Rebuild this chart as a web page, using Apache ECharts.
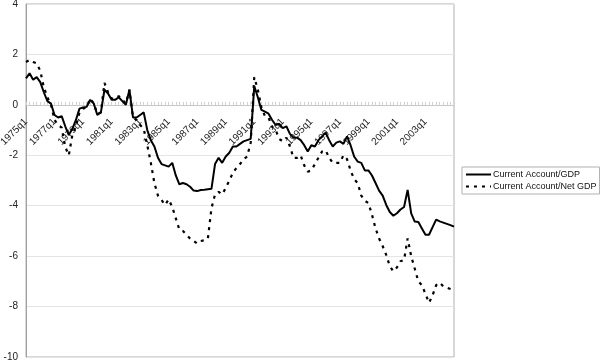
<!DOCTYPE html>
<html>
<head>
<meta charset="utf-8">
<script src="https://cdn.jsdelivr.net/npm/echarts@6/dist/echarts.min.js"></script>
<style>html,body{margin:0;padding:0;background:#fff}#c{width:600px;height:360px}</style>
</head>
<body>
<div id="c"></div>
<script>
// Quarterly categories 1975q1 .. 2005q1
var startYear = 1975, endYear = 2005, endQuarter = 1;
var categories = [];
for (var y = startYear; y <= endYear; y++) {
  for (var q = 1; q <= 4; q++) {
    if (y === endYear && q > endQuarter) break;
    categories.push(y + 'q' + q);
  }
}

var seriesNames = ['Current Account/GDP', 'Current Account/Net GDP'];

var caGDP = [
  1.05, 1.25, 1.0, 1.1, 0.9, 0.5, 0.15, 0.05, -0.4, -0.5,
  -0.45, -0.85, -1.2, -0.95, -0.6, -0.15, -0.1, -0.08, 0.2, 0.05,
  -0.4, -0.3, 0.6, 0.45, 0.2, 0.2, 0.3, 0.15, 0.0, 0.6,
  -0.5, -0.5, -0.4, -0.3, -1.0, -1.4, -1.65, -2.1, -2.35, -2.4,
  -2.45, -2.3, -2.8, -3.15, -3.1, -3.15, -3.25, -3.4, -3.42, -3.38,
  -3.37, -3.35, -3.33, -2.35, -2.1, -2.3, -2.05, -1.9, -1.65, -1.65,
  -1.55, -1.45, -1.4, -1.35, 0.75, 0.3, -0.2, -0.27, -0.35, -0.6,
  -0.8, -0.75, -0.92, -0.85, -1.15, -1.3, -1.3, -1.4, -1.6, -1.85,
  -1.6, -1.65, -1.4, -1.25, -1.1, -1.4, -1.65, -1.5, -1.45, -1.55,
  -1.25, -1.6, -2.05, -2.25, -2.3, -2.6, -2.6, -2.8, -3.1, -3.4,
  -3.6, -3.97, -4.25, -4.4, -4.3, -4.15, -4.05, -3.37, -4.3, -4.63,
  -4.65, -4.9, -5.15, -5.15, -4.85, -4.55, -4.62, -4.67, -4.72, -4.77,
  -4.83
];

var caNetGDP = [
  1.7, 1.78, 1.7, 1.65, 1.35, 0.7, 0.3, 0.0, -0.6, -0.8,
  -0.9, -1.67, -2.0, -1.2, -0.85, -0.3, -0.15, -0.1, 0.25, 0.05,
  -0.35, -0.3, 0.87, 0.5, 0.25, 0.25, 0.35, 0.2, 0.05, 0.6,
  -0.5, -0.6, -0.8, -0.95, -1.6, -2.3, -3.1, -3.6, -3.77, -3.97,
  -3.75, -4.05, -4.5, -4.95, -5.0, -5.15, -5.3, -5.4, -5.5, -5.4,
  -5.37, -5.3, -4.1, -3.55, -3.45, -3.55, -3.3, -3.0, -2.7, -2.5,
  -2.35, -2.15, -2.05, -1.5, 1.1, 0.6, -0.1, -0.45, -0.5, -0.87,
  -1.0, -1.35, -1.45, -1.3, -1.65, -2.1, -2.1, -2.0, -2.4, -2.65,
  -2.6, -2.35, -2.1, -1.85, -1.8, -2.1, -2.3, -2.3, -2.3, -2.0,
  -2.15, -2.6, -2.95, -3.1, -3.6, -3.8, -3.9, -4.35, -4.9, -5.3,
  -5.6, -5.95, -6.4, -6.6, -6.45, -6.2, -6.15, -5.3, -6.0, -6.5,
  -7.0, -7.15, -7.5, -7.85, -7.55, -7.15, -7.05, -7.2, -7.25, -7.3,
  -7.35
];

var yMin = -10, yMax = 4, yStep = 2;
var labelEvery = 8;

var chart = echarts.init(document.getElementById('c'), null, {renderer: 'canvas'});
var font = '"Liberation Sans", Arial, sans-serif';
chart.setOption({
  animation: false,
  backgroundColor: '#fff',
  textStyle: {fontFamily: font},
  grid: {left: 26, right: 146, top: 4, bottom: 3, show: true, borderColor: '#b0b0b0', borderWidth: 1,
         containLabel: false, outerBoundsMode: 'none'},
  legend: {
    orient: 'vertical', left: 462, top: 167,
    itemWidth: 25, itemHeight: 8, itemGap: 3,
    padding: [3, 3, 3, 3],
    borderColor: '#b0b0b0', borderWidth: 1,
    itemStyle: {opacity: 0},
    textStyle: {fontSize: 9, color: '#111', fontFamily: font, padding: [0, 0, 0, -3]},
    data: seriesNames
  },
  xAxis: {
    type: 'category', data: categories, boundaryGap: false,
    axisLine: {onZero: true, onZeroAxisIndex: 0, lineStyle: {color: '#c8c8c8', width: 1}},
    axisTick: {show: true, inside: true, length: 3, interval: 0, lineStyle: {color: '#d0d0d0'}},
    axisLabel: {
      rotate: 45, fontSize: 10, color: '#222', margin: -237, fontFamily: font,
      interval: function (i) { return i % labelEvery === 0 && i < categories.length - 1; }
    },
    splitLine: {show: false}
  },
  yAxis: {
    type: 'value', min: yMin, max: yMax, interval: yStep,
    axisLine: {show: true, lineStyle: {color: '#a0a0a0'}},
    axisTick: {show: false},
    axisLabel: {fontSize: 10, color: '#222', margin: 8, fontFamily: font},
    splitLine: {show: true, lineStyle: {color: '#e4e4e4', width: 1}}
  },
  series: [
    {name: seriesNames[0], type: 'line', data: caGDP, symbol: 'none', smooth: false,
     lineStyle: {color: '#000', width: 2, type: 'solid'}, itemStyle: {color: '#000'}},
    {name: seriesNames[1], type: 'line', data: caNetGDP, symbol: 'none', smooth: false,
     lineStyle: {color: '#000', width: 2.2, type: [3, 5]}, itemStyle: {color: '#000'}}
  ]
});
</script>
</body>
</html>
